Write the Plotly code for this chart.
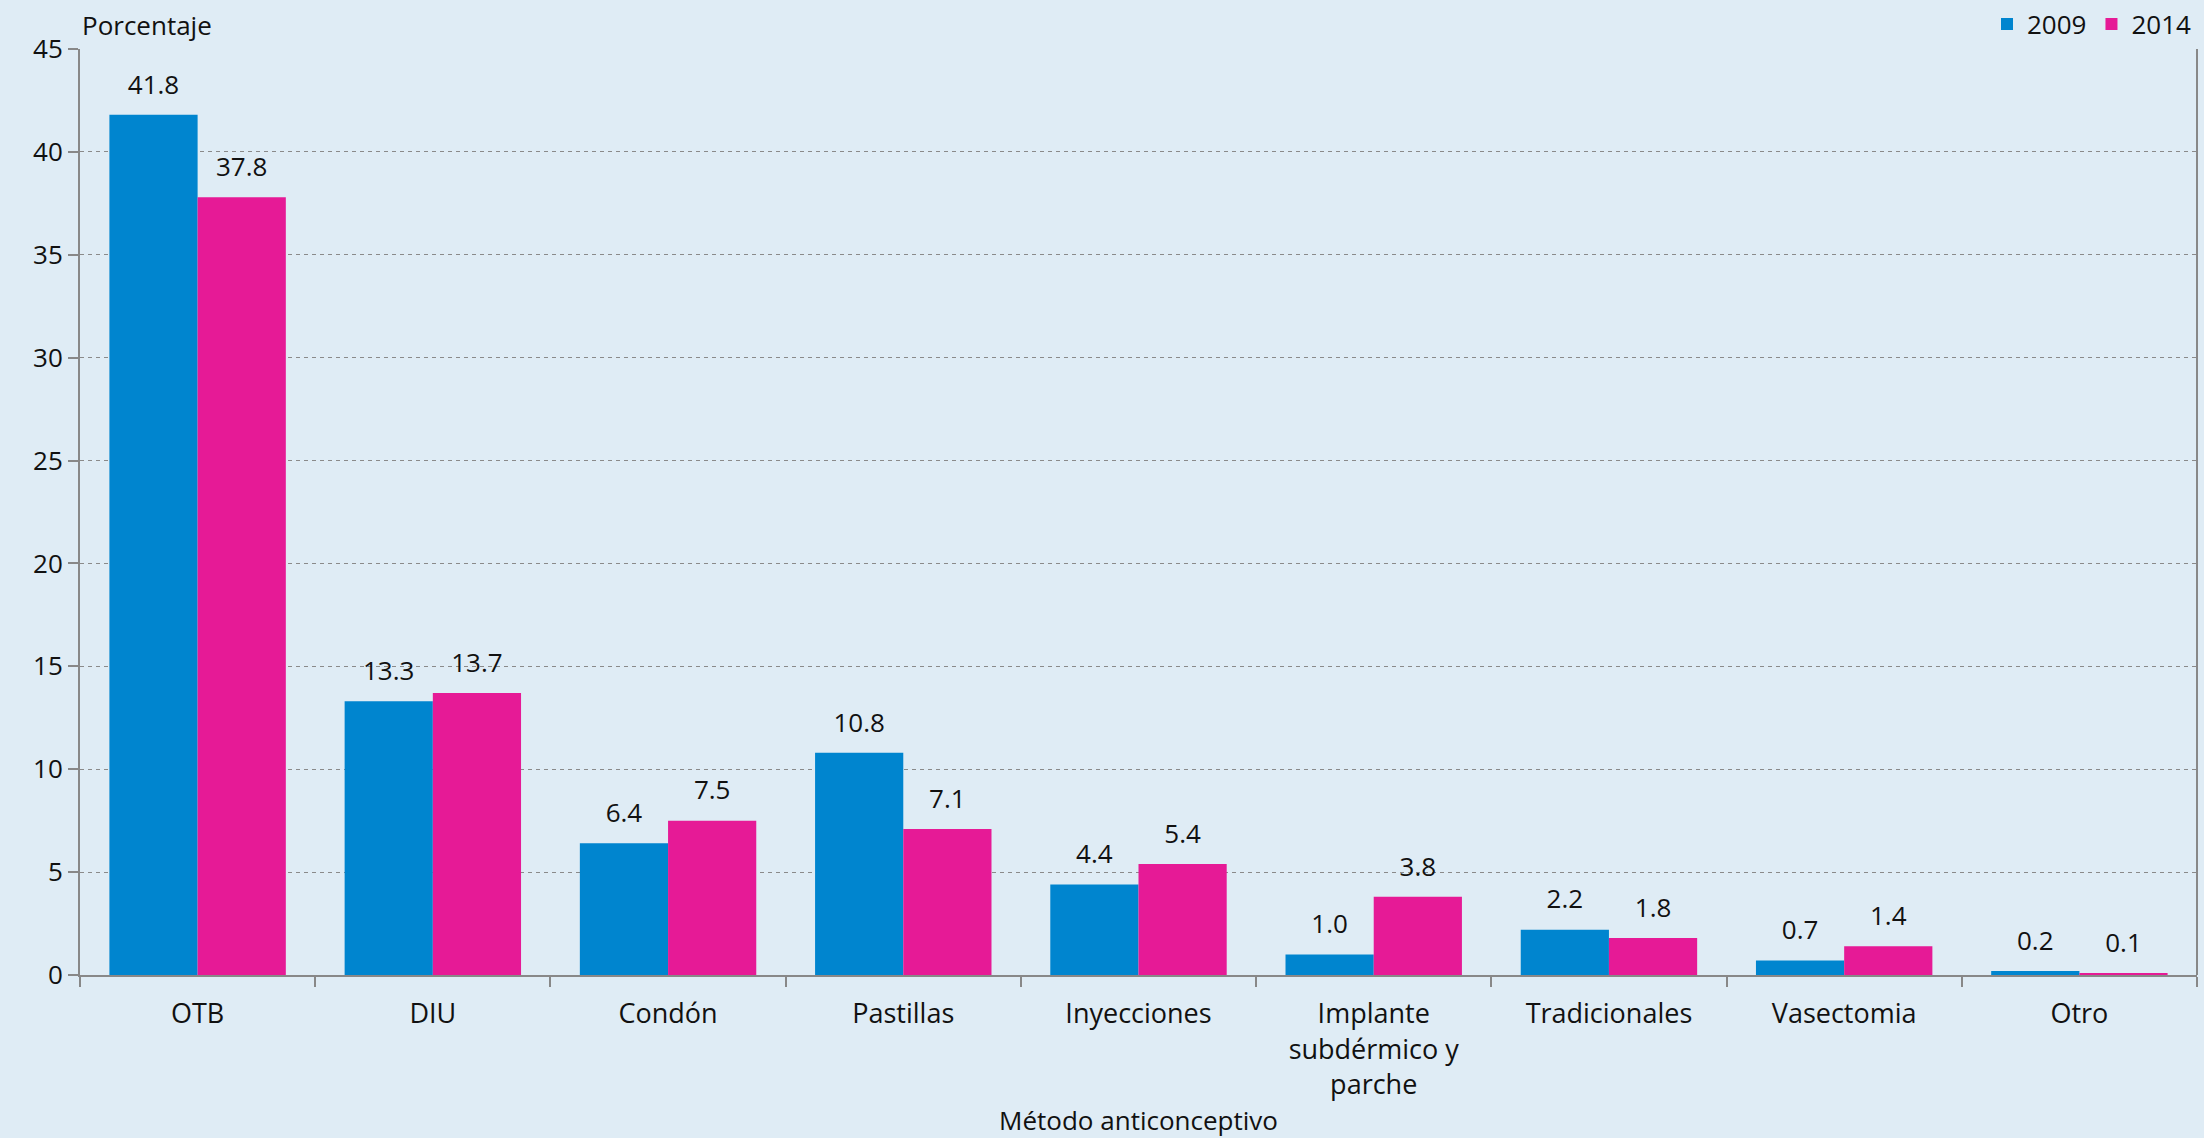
import plotly.graph_objects as go

categories = ["OTB", "DIU", "Condón", "Pastillas", "Inyecciones",
              "Implante<br>subdérmico y<br>parche", "Tradicionales", "Vasectomia", "Otro"]
values_2009 = [41.8, 13.3, 6.4, 10.8, 4.4, 1.0, 2.2, 0.7, 0.2]
values_2014 = [37.8, 13.7, 7.5, 7.1, 5.4, 3.8, 1.8, 1.4, 0.1]
y_ticks = [0, 5, 10, 15, 20, 25, 30, 35, 40, 45]

BG = "#DFECF5"
FONT = "Open Sans"
FS = 26
series = [("2009", values_2009, "#0085CF"), ("2014", values_2014, "#E61A96")]

fig = go.Figure()
for name, vals, col in series:
    fig.add_trace(go.Bar(
        name=name, x=categories, y=vals, marker_color=col, marker_line_width=0,
        offsetgroup=name, alignmentgroup="a",
    ))
for name, vals, col in series:
    fig.add_trace(go.Scatter(
        x=categories, y=vals, mode="markers+text", showlegend=False,
        offsetgroup=name, alignmentgroup="a",
        marker=dict(size=22, opacity=0, color=col),
        text=[f"{v:.1f}" for v in vals], textposition="top center",
        textfont=dict(size=FS, color="#111111", family=FONT), cliponaxis=False,
        hoverinfo="skip",
    ))

fig.update_layout(
    width=2204, height=1138,
    paper_bgcolor=BG, plot_bgcolor=BG,
    barmode="group", bargap=0.25, bargroupgap=0,
    scattermode="group", scattergap=0.25,
    margin=dict(l=80, r=7, t=49, b=163, autoexpand=False),
    font=dict(family=FONT, size=FS, color="#111111"),
    legend=dict(orientation="h", x=1.0, xanchor="right", y=1.027, yanchor="middle",
                font=dict(size=FS), itemwidth=30, bgcolor="rgba(0,0,0,0)",
                traceorder="normal", itemsizing="constant"),
)
fig.update_xaxes(
    type="category", showline=True, linecolor="#888888", linewidth=2,
    ticks="outside", tickson="boundaries", ticklen=10, tickcolor="#888888", tickwidth=2,
    tickfont=dict(size=FS + 1), mirror=False, ticklabelstandoff=14, automargin=False,
    title=dict(text="Método anticonceptivo", font=dict(size=FS), standoff=14),
)
fig.update_yaxes(
    range=[0, 45], tickvals=y_ticks, showline=True, linecolor="#888888", linewidth=2,
    ticks="outside", ticklen=10, tickcolor="#888888", tickwidth=2,
    showgrid=True, gridcolor="#8a8a8a", griddash="4px,4px", gridwidth=1,
    tickfont=dict(size=FS), zeroline=False, automargin=False,
)
# right border line
fig.add_shape(type="line", xref="paper", yref="paper", x0=1, x1=1, y0=0, y1=1,
              line=dict(color="#888888", width=2))
fig.add_annotation(text="Porcentaje", xref="paper", yref="paper", x=0, y=1,
                   xanchor="left", yanchor="bottom", yshift=4, showarrow=False,
                   font=dict(size=FS))

fig.write_html("out.html", config={"displayModeBar": False},
               post_script="document.body.style.margin='0';document.body.style.overflow='hidden';")
